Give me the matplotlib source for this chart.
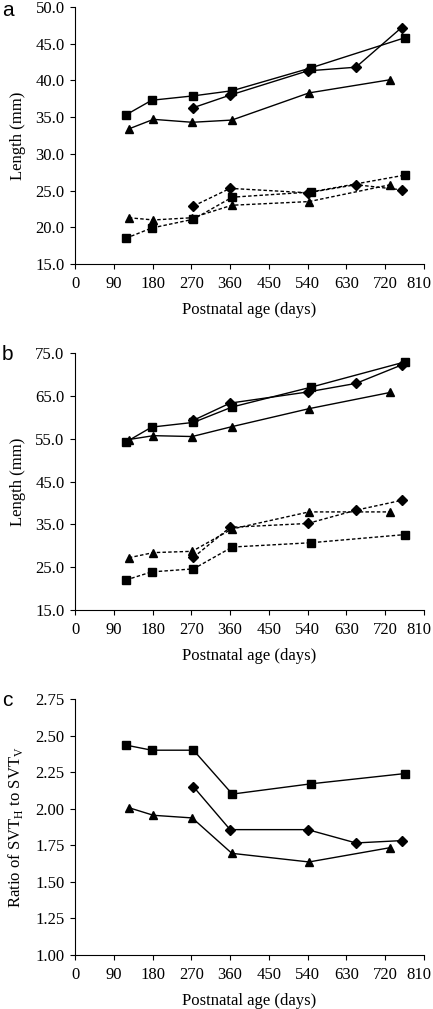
import numpy as np
import matplotlib
matplotlib.use("Agg")
import matplotlib.pyplot as plt
import matplotlib.transforms as mtransforms

plt.rcParams['font.family'] = ['Liberation Serif', 'DejaVu Serif']
plt.rcParams['mathtext.fontset'] = 'custom'
plt.rcParams['mathtext.rm'] = 'Liberation Serif'

# ages (days) for each series
age_sq = [118, 178, 275, 365, 547, 765]
age_tri = [125, 182, 272, 364, 543, 732]
age_dia = [275, 360, 540, 652, 758]

# panel a
a_sq_solid = [35.3, 37.3, 37.9, 38.6, 41.7, 45.8]
a_dia_solid = [36.3, 38.0, 41.3, 41.8, 47.2]
a_tri_solid = [33.4, 34.7, 34.3, 34.6, 38.3, 40.1]
a_sq_dash = [18.5, 19.9, 21.1, 24.1, 24.8, 27.1]
a_dia_dash = [22.9, 25.3, 24.7, 25.8, 25.1]
a_tri_dash = [21.3, 21.0, 21.3, 23.0, 23.5, 25.8]

# panel b
b_sq_solid = [54.2, 57.7, 58.8, 62.4, 67.0, 72.9]
b_dia_solid = [59.3, 63.3, 65.9, 67.9, 72.2]
b_tri_solid = [54.8, 55.7, 55.5, 57.8, 62.0, 65.8]
b_sq_dash = [22.0, 23.9, 24.6, 29.7, 30.7, 32.6]
b_dia_dash = [27.3, 34.3, 35.2, 38.3, 40.6]
b_tri_dash = [27.2, 28.4, 28.7, 33.9, 37.9, 37.9]

# panel c
c_sq = [2.435, 2.40, 2.40, 2.10, 2.17, 2.24]
c_dia = [2.15, 1.857, 1.857, 1.766, 1.782]
c_tri = [2.007, 1.955, 1.937, 1.695, 1.636, 1.734]

xticks = list(range(0, 811, 90))

fig = plt.figure(figsize=(4.33, 10.09), dpi=100)
W, H = 433.0, 1009.0


def make_ax(top, bottom):
    return fig.add_axes([75 / W, 1 - bottom / H, (424 - 75) / W, (bottom - top) / H])


def style(ax, ylim, yticks, fmt, ylabel):
    ax.set_xlim(0, 810)
    ax.set_ylim(*ylim)
    ax.set_xticks(xticks)
    ax.set_yticks(yticks)
    ax.set_yticklabels([fmt.format(v) for v in yticks])
    ax.spines['top'].set_visible(False)
    ax.spines['right'].set_visible(False)
    for s in ['left', 'bottom']:
        ax.spines[s].set_linewidth(0.8)
    ax.tick_params(direction='out', length=3.5, width=0.8, labelsize=12)
    ax.tick_params(axis='x', pad=5)
    ax.tick_params(axis='y', pad=4)
    # nudge the last x label left so it stays inside the figure
    last = ax.get_xticklabels()[-1]
    last.set_transform(last.get_transform() +
                       mtransforms.ScaledTranslation(-5 / 100, 0, fig.dpi_scale_trans))
    ax.set_xlabel('Postnatal age (days)', fontsize=12, labelpad=7)
    ax.set_ylabel(ylabel, fontsize=12, labelpad=7)


dash = (0, (2.5, 1.6))
sq = dict(color='black', marker='s', markersize=5.5, lw=1)
di = dict(color='black', marker='D', markersize=4.8, lw=1)
tr = dict(color='black', marker='^', markersize=5.8, lw=1)

ax1 = make_ax(7, 264)
ax1.plot(age_sq, a_sq_solid, '-', **sq)
ax1.plot(age_dia, a_dia_solid, '-', **di)
ax1.plot(age_tri, a_tri_solid, '-', **tr)
ax1.plot(age_sq, a_sq_dash, linestyle=dash, **sq)
ax1.plot(age_dia, a_dia_dash, linestyle=dash, **di)
ax1.plot(age_tri, a_tri_dash, linestyle=dash, **tr)
style(ax1, (15, 50), np.arange(15, 50.1, 5), '{:.1f}', 'Length (mm)')
fig.text(2 / W, 1 - 10 / H, 'a', fontsize=15, family='Liberation Sans', va='center')

ax2 = make_ax(353, 610)
ax2.plot(age_sq, b_sq_solid, '-', **sq)
ax2.plot(age_dia, b_dia_solid, '-', **di)
ax2.plot(age_tri, b_tri_solid, '-', **tr)
ax2.plot(age_sq, b_sq_dash, linestyle=dash, **sq)
ax2.plot(age_dia, b_dia_dash, linestyle=dash, **di)
ax2.plot(age_tri, b_tri_dash, linestyle=dash, **tr)
style(ax2, (15, 75), np.arange(15, 75.1, 10), '{:.1f}', 'Length (mm)')
fig.text(2 / W, 1 - 355 / H, 'b', fontsize=15, family='Liberation Sans', va='center')

ax3 = make_ax(699, 955)
ax3.plot(age_sq, c_sq, '-', **sq)
ax3.plot(age_dia, c_dia, '-', **di)
ax3.plot(age_tri, c_tri, '-', **tr)
style(ax3, (1.0, 2.75), np.arange(1.0, 2.751, 0.25), '{:.2f}',
      r'Ratio of SVT$_{\mathrm{H}}$ to SVT$_{\mathrm{V}}$')
fig.text(2 / W, 1 - 700 / H, 'c', fontsize=15, family='Liberation Sans', va='center')

fig.savefig('out.png', dpi=100)
